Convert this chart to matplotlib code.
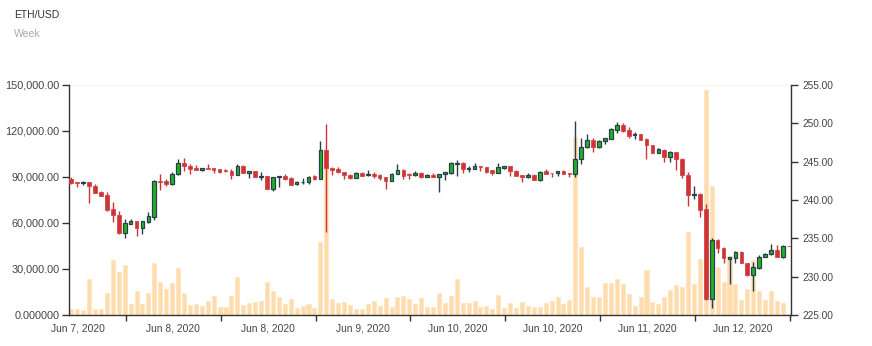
import matplotlib
matplotlib.use("Agg")
import matplotlib.pyplot as plt
import numpy as np

plt.rcParams['font.family'] = ['Liberation Sans', 'DejaVu Sans']

title = "ETH/USD"
subtitle = "Week"
date_labels = ['Jun 7, 2020', 'Jun 8, 2020', 'Jun 8, 2020', 'Jun 9, 2020',
               'Jun 10, 2020', 'Jun 10, 2020', 'Jun 11, 2020', 'Jun 12, 2020']
vol_ticks = [0, 30000, 60000, 90000, 120000, 150000]
vol_tick_labels = ['0.000000', '30,000.00', '60,000.00', '90,000.00', '120,000.00', '150,000.00']
price_ticks = [225, 230, 235, 240, 245, 250, 255]

opens = [242.74, 242.35, 242.17, 242.35, 241.83, 241.04, 240.65, 238.78, 238.09, 235.65,
         236.87, 237.26, 236.30, 237.17, 237.78, 242.52, 242.43, 242.04, 243.35, 244.78,
         244.43, 244.13, 243.87, 244.17, 244.13, 244.00, 243.87, 243.78, 243.30, 244.43,
         243.57, 243.74, 243.00, 243.09, 241.48, 242.96, 243.13, 242.87, 242.09, 242.30,
         242.35, 243.09, 242.70, 246.52, 244.17, 244.09, 243.70, 243.30, 242.91, 243.57,
         243.22, 243.39, 243.30, 242.96, 242.48, 243.43, 243.91, 243.39, 243.26, 243.52,
         243.04, 243.26, 243.04, 243.35, 243.52, 244.65, 244.83, 244.00, 244.00, 244.48,
         244.26, 243.87, 243.57, 244.22, 244.39, 243.83, 243.26, 243.04, 243.30, 242.61,
         243.74, 243.57, 243.57, 243.74, 243.57, 243.39, 245.30, 246.91, 247.78, 246.91,
         247.70, 248.00, 249.17, 249.74, 249.13, 248.48, 248.57, 247.91, 247.13, 246.17,
         246.57, 245.61, 246.30, 245.39, 243.30, 240.70, 240.83, 238.78, 227.13, 234.78,
         233.78, 232.30, 232.48, 233.26, 231.83, 230.22, 231.17, 232.61, 232.96, 233.43,
         232.57, 234.04]
closes = [242.17, 242.17, 242.35, 241.83, 240.96, 240.57, 238.70, 238.09, 235.65, 236.96,
          237.26, 236.30, 237.22, 237.87, 242.52, 242.30, 242.09, 243.43, 244.78, 244.43,
          244.00, 243.87, 244.13, 244.00, 243.87, 243.70, 243.74, 243.30, 244.43, 243.52,
          243.74, 243.00, 243.13, 241.48, 242.96, 243.13, 242.78, 242.00, 242.30, 242.39,
          243.00, 242.70, 246.52, 244.13, 243.91, 243.61, 243.22, 242.83, 243.57, 243.17,
          243.39, 243.13, 242.91, 242.48, 243.43, 243.91, 243.17, 243.22, 243.48, 242.96,
          243.22, 242.96, 243.35, 243.61, 244.78, 244.83, 244.00, 244.17, 244.43, 244.26,
          243.65, 243.52, 244.35, 244.39, 243.74, 243.17, 243.04, 243.30, 242.65, 243.65,
          243.43, 243.48, 243.74, 243.39, 243.39, 245.30, 246.91, 247.78, 246.91, 247.74,
          248.04, 249.26, 249.74, 249.04, 248.39, 248.61, 247.83, 247.13, 246.13, 246.61,
          245.61, 246.26, 245.30, 243.26, 240.70, 240.83, 238.70, 227.04, 234.78, 233.70,
          232.39, 232.52, 233.26, 231.83, 230.17, 231.22, 232.61, 233.00, 233.43, 232.61,
          234.04, 233.96]
highs = [243.04, 242.35, 242.48, 242.35, 242.09, 241.22, 241.09, 239.70, 238.57, 237.48,
         237.48, 237.26, 237.22, 238.39, 242.61, 243.39, 242.78, 243.70, 245.35, 245.48,
         244.65, 244.61, 244.22, 244.70, 244.13, 244.09, 244.09, 244.00, 244.70, 244.57,
         243.74, 243.78, 243.70, 243.09, 243.04, 243.13, 243.35, 243.04, 242.48, 242.87,
         243.13, 243.30, 247.70, 249.87, 244.26, 244.26, 243.70, 243.35, 243.65, 243.61,
         243.91, 243.65, 243.39, 243.00, 243.48, 244.70, 244.00, 243.57, 243.74, 243.61,
         243.43, 243.48, 243.43, 243.70, 244.96, 245.22, 244.91, 244.48, 244.78, 244.48,
         244.30, 243.91, 244.78, 244.39, 244.39, 243.87, 243.30, 243.48, 243.35, 243.74,
         244.00, 243.57, 243.78, 243.91, 243.57, 250.30, 248.13, 248.61, 248.04, 247.78,
         248.13, 249.35, 250.22, 250.09, 249.48, 248.91, 248.61, 248.04, 247.22, 246.83,
         246.65, 246.43, 246.30, 245.52, 243.70, 241.78, 240.91, 239.43, 235.00, 234.87,
         233.83, 232.61, 233.35, 233.35, 231.83, 231.96, 232.83, 233.13, 234.22, 234.13,
         234.09, 234.04]
lows = [242.09, 241.65, 241.91, 239.57, 240.87, 240.52, 238.57, 237.09, 235.57, 235.00,
        236.87, 235.30, 235.52, 237.04, 237.43, 241.30, 241.83, 241.96, 243.26, 243.83,
        243.35, 243.87, 243.83, 244.00, 243.48, 243.48, 243.61, 242.78, 243.26, 243.48,
        242.91, 243.00, 242.65, 241.48, 241.22, 241.70, 242.61, 242.00, 242.00, 242.09,
        242.04, 242.61, 242.70, 235.78, 243.26, 243.48, 242.70, 242.74, 242.83, 243.13,
        243.09, 242.83, 242.57, 241.43, 242.43, 243.39, 242.74, 242.70, 243.17, 242.87,
        242.96, 242.96, 241.04, 242.61, 243.43, 243.17, 243.57, 243.61, 244.00, 243.83,
        243.57, 243.30, 243.57, 244.00, 243.17, 243.13, 242.39, 242.83, 242.61, 242.52,
        243.35, 243.04, 243.13, 243.39, 242.96, 242.96, 244.65, 246.78, 246.30, 246.78,
        247.35, 247.96, 248.70, 248.83, 248.13, 248.00, 247.78, 245.30, 246.09, 246.09,
        244.96, 244.96, 243.91, 242.83, 239.26, 240.13, 237.83, 226.96, 225.87, 233.04,
        231.83, 229.04, 231.83, 231.74, 230.09, 228.17, 231.00, 232.52, 232.83, 232.57,
        232.48, 233.96]
volumes = [3900, 3900, 3300, 23300, 3700, 3900, 14300, 35700, 28000, 32400,
           7200, 15700, 7000, 14100, 33700, 21500, 17000, 20700, 30400, 14600,
           6500, 7200, 5700, 8900, 12400, 5200, 5000, 12400, 24800, 6500,
           7800, 8500, 9300, 21500, 15700, 11500, 7200, 10400, 4600, 5900,
           7000, 4800, 47400, 107000, 10200, 7600, 8500, 6300, 4100, 3900,
           7000, 9300, 5700, 11100, 5000, 11500, 12600, 10400, 7200, 11100,
           5000, 5000, 14100, 7600, 12400, 23500, 7800, 7800, 8900, 5200,
           6100, 4100, 12800, 4600, 7800, 4800, 8500, 5700, 5200, 5200,
           7600, 9300, 11700, 7200, 9800, 116300, 44100, 18300, 11700, 11700,
           20700, 20900, 23300, 20200, 13700, 5700, 12000, 29100, 8300, 7200,
           11700, 16300, 19600, 18300, 54100, 20400, 36500, 146500, 84100, 31100,
           21500, 38700, 20400, 9600, 16700, 35900, 15400, 9800, 15700, 9100,
           7800, 600]

o = np.array(opens); c = np.array(closes); h = np.array(highs); l = np.array(lows)
n = len(o)
x = np.arange(n)
up = c >= o

W, H = 872, 346
fig = plt.figure(figsize=(W / 100, H / 100), dpi=100)
L, R, T, B = 69.3, 791, 85, 315
ax = fig.add_axes([L / W, 1 - B / H, (R - L) / W, (B - T) / H])
ax2 = ax.twinx()

axis_col = '#333333'
lab_col = '#444444'

# volume bars
ax.bar(x, volumes, width=0.68, color='#ffdcae', edgecolor='#ffe3bf', linewidth=0.5, zorder=2)
ax.axhline(150000, color='#fdf1e4', lw=1.5, zorder=1)
ax.set_ylim(0, 150000)
ax.set_xlim(-0.34, 121.37)
ax.set_yticks(vol_ticks)
ax.set_yticklabels(vol_tick_labels)

# candles
green, green_edge = '#1fb41f', '#2b3e4e'
red = '#cf3434'
wick_cols = [green_edge if u else red for u in up]
ax2.vlines(x, l, h, colors=wick_cols, linewidth=1.0, zorder=3)
body_bot = np.minimum(o, c)
body_h = np.maximum(np.abs(c - o), 0.06)
ax2.bar(x[up], body_h[up], bottom=body_bot[up], width=0.62, color=green,
        edgecolor=green_edge, linewidth=0.9, zorder=4)
ax2.bar(x[~up], body_h[~up], bottom=body_bot[~up], width=0.62, color=red,
        edgecolor='#d04848', linewidth=0.6, zorder=4)
ax2.set_ylim(225, 255)
ax2.set_yticks(price_ticks)
ax2.set_yticklabels([f"{p:.2f}" for p in price_ticks])
ax2.set_xlim(-0.34, 121.37)

# x axis: boundaries as minor ticks, labels centred between them
bounds = [9.2 + 16 * k for k in range(len(date_labels))]
centers = [b - 8 for b in bounds]
ax.set_xticks(centers)
ax.set_xticklabels(date_labels)
ax.set_xticks(bounds, minor=True)
ax.tick_params(axis='x', which='major', length=0, pad=6, labelsize=7.4, labelcolor=lab_col)
ax.tick_params(axis='x', which='minor', length=4, width=1, color=axis_col)
ax.tick_params(axis='y', length=5, width=1, color=axis_col, labelsize=7.8, labelcolor=lab_col, pad=2)
ax2.tick_params(axis='y', length=5, width=1, color=axis_col, labelsize=7.3, labelcolor=lab_col, pad=3)

for a in (ax, ax2):
    a.spines['top'].set_visible(False)
    for s in ('left', 'right', 'bottom'):
        a.spines[s].set_color(axis_col)
        a.spines[s].set_linewidth(1.0)
ax2.spines['left'].set_visible(False)
ax2.spines['bottom'].set_visible(False)
ax.spines['right'].set_visible(False)

fig.text(14 / W, 1 - 15 / H, title, fontsize=7.5, color='#333333', va='center', ha='left')
fig.text(14 / W, 1 - 34 / H, subtitle, fontsize=7.5, color='#aaaaaa', va='center', ha='left')

fig.savefig('out.png', dpi=100)
